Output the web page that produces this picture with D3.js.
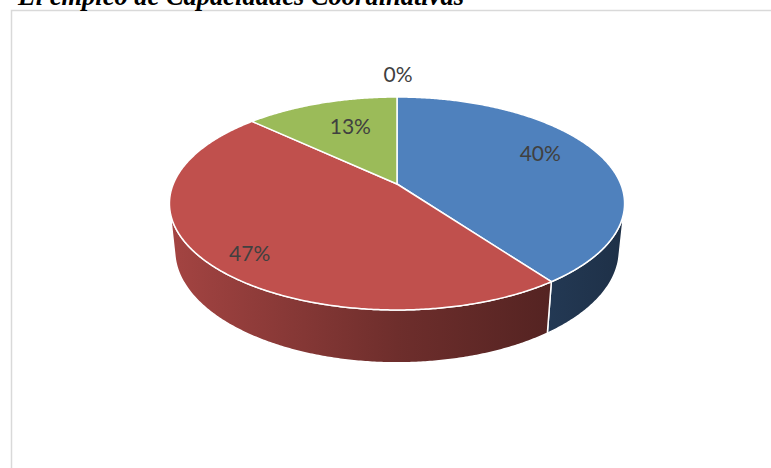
<!DOCTYPE html>
<html>
<head>
<meta charset="utf-8">
<script src="https://cdn.jsdelivr.net/npm/d3@7"></script>
<style>
  html, body { margin: 0; padding: 0; background: #fff; overflow: hidden; }
  svg { display: block; }
</style>
</head>
<body>
<svg id="chart" width="771" height="468"></svg>
<script>
// ---- data ----
const titleText = "El empleo de Capacidades Coordinativas";
const categories = ["Categoría 1", "Categoría 2", "Categoría 3", "Categoría 4"];
const values = [40, 47, 13, 0];
const colors = ["#4F81BD", "#C0504D", "#9BBB59", "#8064A2"];

// ---- layout ----
const W = 771, H = 468;
// perspective camera for the 3D disc (unit distance camera, radius R, thickness h)
const geo = { cx: 397, cy: 184, f: 1086, R: 0.206, h: 0.049, tilt: Math.asin(0.46) };
// data-label shifts from their default anchor, in px
const labelShift = [[0, -9], [-19, 17], [9, 2], [1, -23]];

const sinT = Math.sin(geo.tilt), cosT = Math.cos(geo.tilt);

// angle a measured clockwise from the far (12 o'clock) point, r = radius fraction, y = height (0 = top face)
function project(a, r, y) {
  const x3 = geo.R * r * Math.sin(a), z3 = geo.R * r * Math.cos(a);
  const yc = z3 * sinT + y * cosT;
  const depth = 1 + z3 * cosT - y * sinT;
  return [geo.cx + geo.f * x3 / depth, geo.cy - geo.f * yc / depth];
}
function samples(a0, a1) {
  const n = Math.max(2, Math.ceil((a1 - a0) / (Math.PI / 360)));
  return d3.range(n + 1).map(i => a0 + (a1 - a0) * i / n);
}

const svg = d3.select("#chart");
const defs = svg.append("defs");

// chart frame
svg.append("path")
  .attr("d", `M11.5,${H} L11.5,10.5 L${W},10.5`)
  .attr("fill", "none")
  .attr("stroke", "#d9d9d9")
  .attr("stroke-width", 1.5);

// title (sits partly above the frame)
svg.append("text")
  .attr("x", 18)
  .attr("y", 5)
  .attr("font-family", "'Liberation Serif', 'Times New Roman', serif")
  .attr("font-weight", "bold")
  .attr("font-style", "italic")
  .attr("font-size", 26.5)
  .attr("fill", "#000")
  .text(titleText);

const pie = d3.pie().sort(null).value(d => d);
const arcs = pie(values);

const line = d3.line();

// horizontal extent of the rim, used for side shading
const rimX = d3.range(0, 360, 1).map(d => project(d * Math.PI / 180, 1, 0)[0]);
const xMin = d3.min(rimX), xMax = d3.max(rimX);

arcs.forEach((d, i) => {
  const base = d3.color(colors[i]);
  const g = defs.append("linearGradient")
    .attr("id", "side" + i)
    .attr("gradientUnits", "userSpaceOnUse")
    .attr("x1", xMin).attr("x2", xMax).attr("y1", 0).attr("y2", 0);
  g.append("stop").attr("offset", 0).attr("stop-color", base.darker(0.45).formatHex());
  g.append("stop").attr("offset", 0.5).attr("stop-color", base.darker(1.55).formatHex());
  g.append("stop").attr("offset", 1).attr("stop-color", base.darker(2.75).formatHex());
});

// visible part of the outer wall (faces the camera)
const vis0 = Math.acos(-geo.R / cosT), vis1 = 2 * Math.PI - vis0;

const sides = svg.append("g");
arcs.forEach((d, i) => {
  const lo = Math.max(d.startAngle, vis0), hi = Math.min(d.endAngle, vis1);
  if (hi <= lo) return;
  const angs = samples(lo, hi);
  const pts = angs.map(a => project(a, 1, 0))
    .concat(angs.slice().reverse().map(a => project(a, 1, -geo.h)));
  sides.append("path")
    .attr("d", line(pts) + "Z")
    .attr("fill", `url(#side${i})`)
    .attr("stroke", "#fff")
    .attr("stroke-width", 1.5)
    .attr("stroke-linejoin", "round");
});

// top faces
const tops = svg.append("g");
arcs.forEach((d, i) => {
  if (d.endAngle - d.startAngle <= 0) return;
  const pts = [project(0, 0, 0)].concat(samples(d.startAngle, d.endAngle).map(a => project(a, 1, 0)));
  tops.append("path")
    .attr("d", line(pts) + "Z")
    .attr("fill", colors[i])
    .attr("stroke", "#fff")
    .attr("stroke-width", 1.5)
    .attr("stroke-linejoin", "round");
});

// data labels
const fmt = v => v + "%";
svg.append("g").selectAll("text")
  .data(arcs)
  .join("text")
  .attr("transform", (d, i) => {
    const mid = (d.startAngle + d.endAngle) / 2;
    const p = project(mid, d.value > 0 ? 0.7 : 1, 0);
    return `translate(${p[0] + labelShift[i][0]},${p[1] + labelShift[i][1]})`;
  })
  .attr("text-anchor", "middle")
  .attr("dy", "0.36em")
  .attr("font-family", "Lato, 'Open Sans', sans-serif")
  .attr("font-size", 21)
  .attr("fill", "#404040")
  .text(d => fmt(d.value));
</script>
</body>
</html>
